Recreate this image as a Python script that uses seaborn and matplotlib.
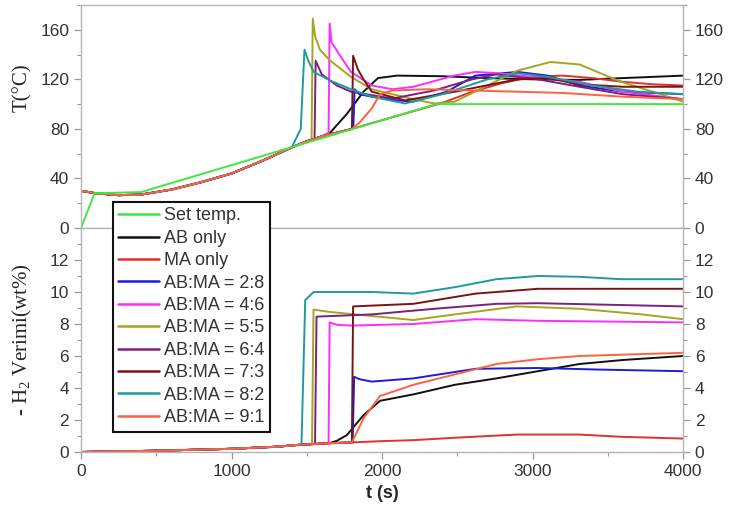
import numpy as np
import pandas as pd
import matplotlib
matplotlib.use("Agg")
import matplotlib.pyplot as plt
from matplotlib.lines import Line2D
from matplotlib.ticker import MultipleLocator
import seaborn as sns

sns.set_style("white")
plt.rcParams['font.family'] = ['Liberation Sans', 'DejaVu Sans']
plt.rcParams['mathtext.fontset'] = 'custom'
plt.rcParams['mathtext.rm'] = 'Liberation Serif'
plt.rcParams['mathtext.it'] = 'Liberation Serif:italic'

series_names = ["Set temp.", "AB only", "MA only", "AB:MA = 2:8", "AB:MA = 4:6",
                "AB:MA = 5:5", "AB:MA = 6:4", "AB:MA = 7:3", "AB:MA = 8:2", "AB:MA = 9:1"]
series_colors = ["#3ee83e", "#111111", "#e03030", "#1c1cdc", "#ff2cff",
                 "#a5a51e", "#7d207d", "#7a1414", "#1f9a9a", "#ff6040"]

# ---------- temperature panel (t in s, T in degC) ----------
set_t = [0, 90, 400, 2360, 4000]
set_T = [0, 28, 29, 100, 100]

base_t = [0, 100, 250, 400, 600, 800, 1000, 1200, 1400, 1500, 1600, 1700, 1800]
base_T = [30, 28, 26.5, 27, 31, 37, 44, 54, 65, 70, 74, 77, 80]

ab_t = [1656, 1766, 1877, 1973, 2100, 2400, 2700, 3000, 3300, 3600, 4000]
ab_T = [77, 92, 110, 121, 123, 122.5, 121, 120, 119.5, 121, 123]

ma_t = [2000, 2200, 2400, 2600, 2800, 3000, 3200, 3400, 3600, 3800, 4000]
ma_T = [87, 94, 101, 110, 117, 122, 123, 121, 118, 116, 115]

r28_t = [1810, 1818, 1850, 1932, 2100, 2208, 2430, 2620, 2900, 3100, 3312, 3600, 4000]
r28_T = [83, 112, 108, 106, 103, 102, 110, 123, 126, 123, 115, 110, 108]

r46_t = [1645, 1652, 1665, 1711, 1794, 1932, 2070, 2208, 2480, 2620, 2760, 3000, 3312, 3600, 4000]
r46_T = [76, 165, 150, 141, 126, 115, 112, 114, 123, 126, 125, 122, 118, 110, 104]

r55_t = [1532, 1540, 1555, 1587, 1656, 1794, 1932, 2208, 2346, 2484, 2700, 2900, 3119, 3312, 3588, 3800, 4000]
r55_T = [71, 169, 155, 144, 135, 122, 112, 104, 100.5, 102, 115, 127, 134, 132, 118, 110, 102]

r64_t = [1552, 1559, 1600, 1700, 1794, 2070, 2346, 2600, 2760, 3036, 3312, 3600, 4000]
r64_T = [72, 135, 124, 115, 110, 104.5, 111, 120, 124, 120, 114, 108, 104]

r73_t = [1808, 1840, 1877, 1932, 2153, 2484, 2898, 3100, 3312, 3600, 4000]
r73_T = [139, 128, 120, 110, 103, 110, 120, 121, 116, 114, 114]

r82_t = [1460, 1485, 1510, 1546, 1656, 1794, 1932, 2153, 2400, 2700, 2900, 3100, 3400, 3700, 4000]
r82_T = [80, 144, 135, 126, 119, 112, 106, 100.5, 108, 120, 125, 122, 115, 110, 108]

r91_t = [1850, 1932, 1987, 2070, 2300, 2600, 2900, 3200, 3600, 4000]
r91_T = [85, 96.5, 108, 111, 112, 111, 110, 109, 106, 104]

# ---------- hydrogen panel (wt%) ----------
hbase_t = [0, 500, 1000, 1300, 1450, 1550, 1650, 1800]
hbase_v = [0, 0.08, 0.2, 0.33, 0.45, 0.5, 0.55, 0.6]

h_ab_t = [1700, 1766, 1877, 1987, 2208, 2484, 2760, 3036, 3312, 3600, 4000]
h_ab_v = [0.7, 1.05, 2.3, 3.2, 3.6, 4.2, 4.6, 5.05, 5.5, 5.75, 6.0]

h_ma_t = [2000, 2208, 2500, 2898, 3312, 3588, 4000]
h_ma_v = [0.68, 0.74, 0.9, 1.09, 1.09, 0.95, 0.84]

h28_t = [1805, 1815, 1850, 1932, 2208, 2622, 3036, 3450, 4000]
h28_v = [0.6, 4.7, 4.55, 4.4, 4.6, 5.2, 5.25, 5.15, 5.05]

h46_t = [1645, 1652, 1700, 1794, 2208, 2622, 3036, 4000]
h46_v = [0.56, 8.1, 7.95, 7.9, 8.0, 8.3, 8.2, 8.1]

h55_t = [1535, 1545, 1656, 1932, 2208, 2484, 2898, 3312, 3726, 4000]
h55_v = [0.5, 8.9, 8.75, 8.5, 8.25, 8.6, 9.1, 8.95, 8.6, 8.3]

h64_t = [1555, 1565, 1932, 2346, 2760, 3036, 4000]
h64_v = [0.52, 8.46, 8.6, 8.95, 9.26, 9.3, 9.1]

h73_t = [1808, 2208, 2622, 3036, 4000]
h73_v = [9.1, 9.26, 9.9, 10.2, 10.2]

h82_t = [1465, 1490, 1546, 1932, 2208, 2484, 2760, 3036, 3312, 3588, 4000]
h82_v = [0.5, 9.5, 10.0, 10.0, 9.9, 10.3, 10.8, 11.0, 10.95, 10.8, 10.8]

h91_t = [1877, 1987, 2208, 2484, 2760, 3036, 3312, 4000]
h91_v = [2.1, 3.5, 4.2, 4.85, 5.5, 5.8, 6.0, 6.2]


def with_base(bt, bv, t, v):
    """prefix a series with the shared measured baseline up to its first own point"""
    pre_t = [x for x in bt if x < t[0]]
    pre_v = bv[:len(pre_t)]
    return pre_t + list(t), pre_v + list(v)


top_series = {
    "Set temp.": (set_t, set_T),
    "AB only": with_base(base_t, base_T, ab_t, ab_T),
    "MA only": with_base(base_t, base_T, ma_t, ma_T),
    "AB:MA = 2:8": with_base(base_t, base_T, r28_t, r28_T),
    "AB:MA = 4:6": with_base(base_t, base_T, r46_t, r46_T),
    "AB:MA = 5:5": with_base(base_t, base_T, r55_t, r55_T),
    "AB:MA = 6:4": with_base(base_t, base_T, r64_t, r64_T),
    "AB:MA = 7:3": with_base(base_t, base_T, r73_t, r73_T),
    "AB:MA = 8:2": with_base(base_t, base_T, r82_t, r82_T),
    "AB:MA = 9:1": with_base(base_t, base_T, r91_t, r91_T),
}
bot_series = {
    "AB only": with_base(hbase_t, hbase_v, h_ab_t, h_ab_v),
    "MA only": with_base(hbase_t, hbase_v, h_ma_t, h_ma_v),
    "AB:MA = 2:8": with_base(hbase_t, hbase_v, h28_t, h28_v),
    "AB:MA = 4:6": with_base(hbase_t, hbase_v, h46_t, h46_v),
    "AB:MA = 5:5": with_base(hbase_t, hbase_v, h55_t, h55_v),
    "AB:MA = 6:4": with_base(hbase_t, hbase_v, h64_t, h64_v),
    "AB:MA = 7:3": with_base(hbase_t, hbase_v, h73_t, h73_v),
    "AB:MA = 8:2": with_base(hbase_t, hbase_v, h82_t, h82_v),
    "AB:MA = 9:1": with_base(hbase_t, hbase_v, h91_t, h91_v),
}


def to_long(d, ycol):
    rows = []
    for name, (t, v) in d.items():
        for i, (a, b) in enumerate(zip(t, v)):
            rows.append({"series": name, "t": a, ycol: b, "i": i})
    return pd.DataFrame(rows)


df_top = to_long(top_series, "T")
df_bot = to_long(bot_series, "H")
palette = dict(zip(series_names, series_colors))

fig = plt.figure(figsize=(7.31, 5.18), dpi=100)
L, R = 81 / 731, 683 / 731
ax1 = fig.add_axes([L, 1 - 228 / 518, R - L, 223 / 518])
ax2 = fig.add_axes([L, 1 - 452 / 518, R - L, 224 / 518])

top_order = series_names[1:] + ["Set temp."]
bot_order = series_names[1:]
for name in top_order:
    sub = df_top[df_top.series == name]
    sns.lineplot(data=sub, x="t", y="T", color=palette[name], lw=1.4,
                 estimator=None, sort=False, ax=ax1, legend=False)
for name in bot_order:
    sub = df_bot[df_bot.series == name]
    sns.lineplot(data=sub, x="t", y="H", color=palette[name], lw=1.4,
                 estimator=None, sort=False, ax=ax2, legend=False)

spine_c = "#b5b5b5"
for ax in (ax1, ax2):
    ax.set_xlim(0, 4000)
    for s in ax.spines.values():
        s.set_color(spine_c)
        s.set_linewidth(1.0)
    ax.xaxis.set_major_locator(MultipleLocator(1000))
    ax.xaxis.set_minor_locator(MultipleLocator(500))
    ax.tick_params(axis="both", which="both", direction="out", color="#999999",
                   labelcolor="#333333", labelsize=12.5, left=True, right=True,
                   labelleft=True, labelright=True)
    ax.tick_params(which="major", length=5, width=0.9)
    ax.tick_params(which="minor", length=3, width=0.8)
    ax.set_xlabel("")
    ax.set_ylabel("")

ax1.set_ylim(0, 180)
ax1.yaxis.set_major_locator(MultipleLocator(40))
ax1.yaxis.set_minor_locator(MultipleLocator(20))
ax1.tick_params(axis="x", which="both", bottom=False, top=False, labelbottom=False)

ax2.set_ylim(0, 14)
ax2.yaxis.set_major_locator(MultipleLocator(2))
ax2.yaxis.set_minor_locator(MultipleLocator(1))
ax2.set_yticks([0, 2, 4, 6, 8, 10, 12])
ax2.tick_params(axis="x", which="both", bottom=True, top=False, labelbottom=True)

fig.text(22 / 731, 1 - 88 / 518, "T(°C)", rotation=90, ha="center", va="center",
         family=["Liberation Serif", "DejaVu Serif"], fontsize=15)
fig.text(22 / 731, 1 - 340 / 518, r"- H$_2$ Verimi(wt%)", rotation=90, ha="center",
         va="center", family=["Liberation Serif", "DejaVu Serif"], fontsize=15)
fig.text((L + R) / 2, 1 - 494 / 518, "t (s)", ha="center", va="center",
         fontweight="bold", fontsize=13)

handles = [Line2D([0], [0], color=palette[n], lw=1.8) for n in series_names]
leg = fig.legend(handles, series_names, loc="upper left",
                 bbox_to_anchor=(113 / 731, 1 - 202 / 518), fontsize=13,
                 frameon=True, fancybox=False, framealpha=1, edgecolor="#111111",
                 handlelength=2.25, handletextpad=0.3, labelspacing=0.3,
                 borderpad=0.3, borderaxespad=0)
leg.get_frame().set_linewidth(1.5)
for txt in leg.get_texts():
    txt.set_color("#333333")

fig.savefig("out.png", dpi=100)
